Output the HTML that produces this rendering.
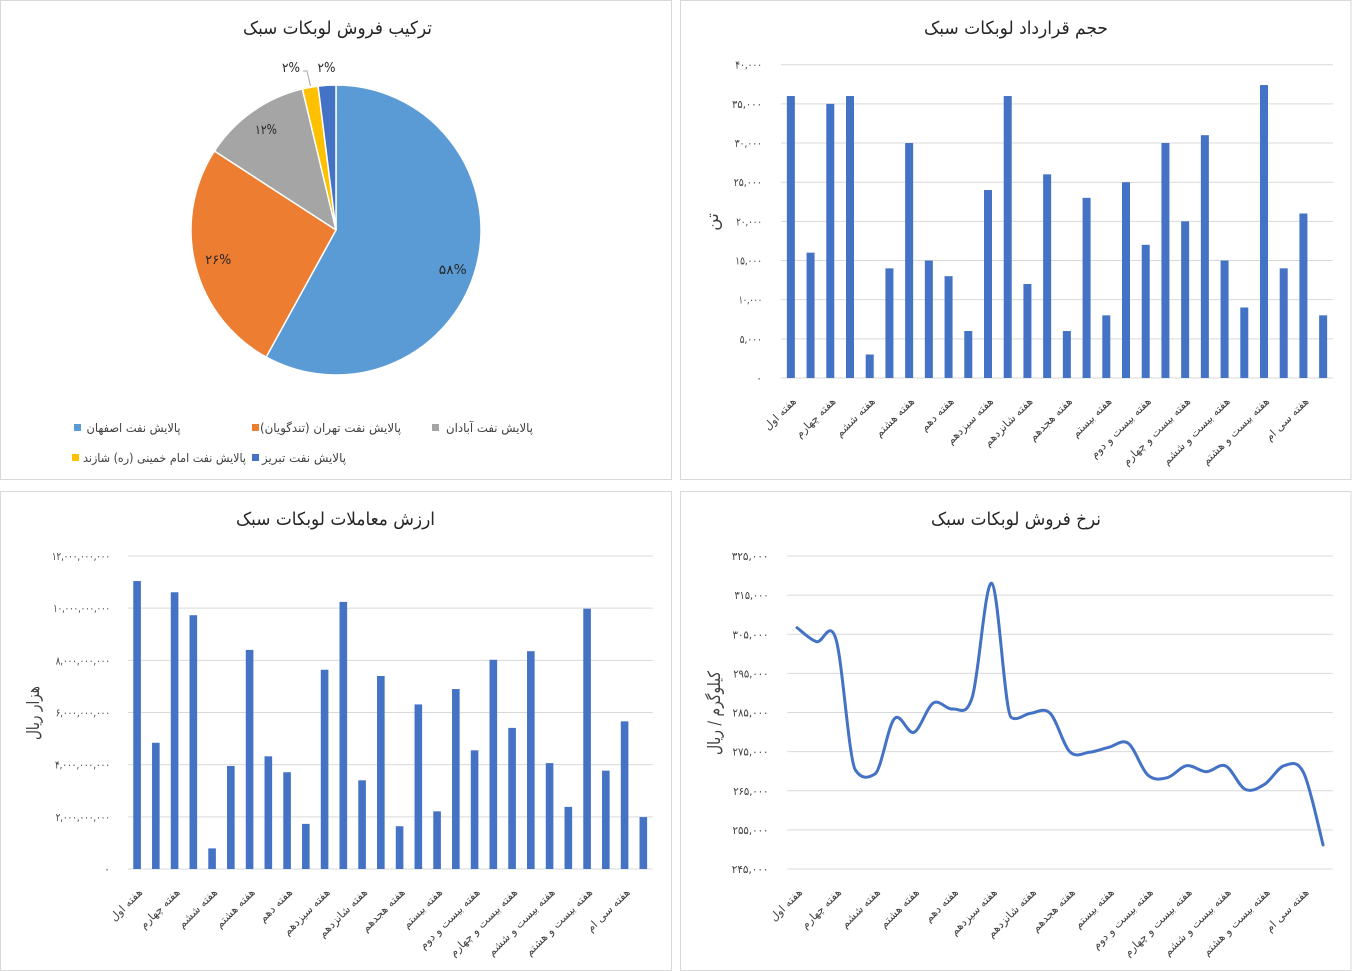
<!DOCTYPE html>
<html><head><meta charset="utf-8">
<style>
html,body{margin:0;padding:0;background:#fff;}
svg{display:block;}
text{font-family:"DejaVu Sans","Liberation Sans",sans-serif;}
.ttl{font-size:18px;fill:#262626;}
.num{font-size:11px;fill:#404040;}
.cat{font-size:11px;fill:#404040;}
.leg{font-size:12px;fill:#404040;}
.axt{font-size:17px;fill:#404040;}
.pct{font-size:13px;fill:#262626;}
.grid{stroke:#d9d9d9;stroke-width:1;}
</style></head>
<body>
<svg width="1352" height="971" viewBox="0 0 1352 971" xmlns="http://www.w3.org/2000/svg">
<rect x="0" y="0" width="1352" height="971" fill="#fff"/>
<!-- panel borders -->
<rect x="0.5" y="0.5" width="671" height="479" fill="none" stroke="#d9d9d9"/>
<rect x="680.5" y="0.5" width="670.5" height="479" fill="none" stroke="#d9d9d9"/>
<rect x="0.5" y="491.5" width="671" height="479" fill="none" stroke="#d9d9d9"/>
<rect x="680.5" y="491.5" width="670.5" height="479" fill="none" stroke="#d9d9d9"/>

<!-- ============ PIE (top-left) ============ -->
<text class="ttl" x="337.5" y="34" text-anchor="middle" direction="rtl" textLength="189" lengthAdjust="spacingAndGlyphs">ترکیب فروش لوبکات سبک</text>
<g stroke="#fff" stroke-width="1.5" stroke-linejoin="round">
<path d="M336,230 L336,85 A145,145 0 1 1 266.14,357.06 Z" fill="#5B9BD5"/>
<path d="M336,230 L266.14,357.06 A145,145 0 0 1 214.4,151.03 Z" fill="#ED7D31"/>
<path d="M336,230 L214.4,151.03 A145,145 0 0 1 302.4,88.94 Z" fill="#A5A5A5"/>
<path d="M336,230 L302.4,88.94 A145,145 0 0 1 318.08,86.11 Z" fill="#FFC000"/>
<path d="M336,230 L318.08,86.11 A145,145 0 0 1 336,85 Z" fill="#4472C4"/>
</g>
<polyline points="303,71 307,71 310.5,86" fill="none" stroke="#a6a6a6" stroke-width="1"/>
<text class="pct" x="452.8" y="274" text-anchor="middle" textLength="28" lengthAdjust="spacingAndGlyphs">۵۸%</text>
<text class="pct" x="218.3" y="264" text-anchor="middle" textLength="26" lengthAdjust="spacingAndGlyphs">۲۶%</text>
<text class="pct" x="266" y="134" text-anchor="middle" textLength="22" lengthAdjust="spacingAndGlyphs">۱۲%</text>
<text class="pct" x="291" y="72" text-anchor="middle" textLength="18" lengthAdjust="spacingAndGlyphs">۲%</text>
<text class="pct" x="326.5" y="72" text-anchor="middle" textLength="18" lengthAdjust="spacingAndGlyphs">۲%</text>
<!-- legend -->
<rect x="74" y="424" width="7" height="7" fill="#5B9BD5"/>
<text class="leg" x="133.5" y="432" text-anchor="middle" direction="rtl" textLength="94" lengthAdjust="spacingAndGlyphs">پالایش نفت اصفهان</text>
<rect x="252" y="424" width="7" height="7" fill="#ED7D31"/>
<text class="leg" x="330.5" y="432" text-anchor="middle" direction="rtl" textLength="141" lengthAdjust="spacingAndGlyphs">پالایش نفت تهران (تندگویان)&#x200F;</text>
<rect x="432" y="424" width="7" height="7" fill="#A5A5A5"/>
<text class="leg" x="489.5" y="432" text-anchor="middle" direction="rtl" textLength="87" lengthAdjust="spacingAndGlyphs">پالایش نفت آبادان</text>
<rect x="72" y="454" width="7" height="7" fill="#FFC000"/>
<text class="leg" x="164.5" y="462" text-anchor="middle" direction="rtl" textLength="163" lengthAdjust="spacingAndGlyphs">پالایش نفت امام خمینی (ره) شازند</text>
<rect x="252" y="454" width="7" height="7" fill="#4472C4"/>
<text class="leg" x="304" y="462" text-anchor="middle" direction="rtl" textLength="84" lengthAdjust="spacingAndGlyphs">پالایش نفت تبریز</text>

<!-- ============ BAR (top-right) ============ -->
<text class="ttl" x="1016" y="34" text-anchor="middle" direction="rtl" textLength="184" lengthAdjust="spacingAndGlyphs">حجم قرارداد لوبکات سبک</text>
<g class="grid">
<line x1="781" y1="64.7" x2="1333" y2="64.7"/>
<line x1="781" y1="103.86" x2="1333" y2="103.86"/>
<line x1="781" y1="143.03" x2="1333" y2="143.03"/>
<line x1="781" y1="182.19" x2="1333" y2="182.19"/>
<line x1="781" y1="221.35" x2="1333" y2="221.35"/>
<line x1="781" y1="260.51" x2="1333" y2="260.51"/>
<line x1="781" y1="299.68" x2="1333" y2="299.68"/>
<line x1="781" y1="338.84" x2="1333" y2="338.84"/>
<line x1="781" y1="378" x2="1333" y2="378"/>
</g>
<g class="num" text-anchor="end">
<text x="762" y="68.7" textLength="26.7" lengthAdjust="spacingAndGlyphs">۴۰,۰۰۰</text>
<text x="762" y="107.9" textLength="30" lengthAdjust="spacingAndGlyphs">۳۵,۰۰۰</text>
<text x="762" y="147" textLength="27.3" lengthAdjust="spacingAndGlyphs">۳۰,۰۰۰</text>
<text x="762" y="186.2" textLength="28.3" lengthAdjust="spacingAndGlyphs">۲۵,۰۰۰</text>
<text x="762" y="225.4" textLength="25.7" lengthAdjust="spacingAndGlyphs">۲۰,۰۰۰</text>
<text x="762" y="264.5" textLength="26.7" lengthAdjust="spacingAndGlyphs">۱۵,۰۰۰</text>
<text x="762" y="303.7" textLength="23.3" lengthAdjust="spacingAndGlyphs">۱۰,۰۰۰</text>
<text x="762" y="342.8" textLength="22.3" lengthAdjust="spacingAndGlyphs">۵,۰۰۰</text>
<text x="762" y="382">۰</text>
</g>
<text class="axt" transform="translate(718,222) rotate(-90)" text-anchor="middle" direction="rtl">تن</text>
<g fill="#4472C4">
<rect x="786.86" y="96.03" width="8" height="281.97"/>
<rect x="806.57" y="252.68" width="8" height="125.32"/>
<rect x="826.29" y="103.86" width="8" height="274.14"/>
<rect x="846.0" y="96.03" width="8" height="281.97"/>
<rect x="865.71" y="354.5" width="8" height="23.5"/>
<rect x="885.43" y="268.34" width="8" height="109.66"/>
<rect x="905.14" y="143.02" width="8" height="234.98"/>
<rect x="924.86" y="260.51" width="8" height="117.49"/>
<rect x="944.57" y="276.18" width="8" height="101.82"/>
<rect x="964.29" y="331.0" width="8" height="47.0"/>
<rect x="984.0" y="190.02" width="8" height="187.98"/>
<rect x="1003.71" y="96.03" width="8" height="281.97"/>
<rect x="1023.43" y="284.01" width="8" height="93.99"/>
<rect x="1043.14" y="174.35" width="8" height="203.65"/>
<rect x="1062.86" y="331.0" width="8" height="47.0"/>
<rect x="1082.57" y="197.85" width="8" height="180.15"/>
<rect x="1102.29" y="315.34" width="8" height="62.66"/>
<rect x="1122.0" y="182.19" width="8" height="195.81"/>
<rect x="1141.71" y="244.85" width="8" height="133.15"/>
<rect x="1161.43" y="143.02" width="8" height="234.98"/>
<rect x="1181.14" y="221.35" width="8" height="156.65"/>
<rect x="1200.86" y="135.19" width="8" height="242.81"/>
<rect x="1220.57" y="260.51" width="8" height="117.49"/>
<rect x="1240.29" y="307.51" width="8" height="70.49"/>
<rect x="1260.0" y="85.06" width="8" height="292.94"/>
<rect x="1279.71" y="268.34" width="8" height="109.66"/>
<rect x="1299.43" y="213.52" width="8" height="164.48"/>
<rect x="1319.14" y="315.34" width="8" height="62.66"/>
</g>
<g class="cat" text-anchor="end">
<text transform="translate(796.9,402) rotate(-45)">هفته اول</text>
<text transform="translate(836.3,402) rotate(-45)">هفته چهارم</text>
<text transform="translate(875.7,402) rotate(-45)">هفته ششم</text>
<text transform="translate(915.1,402) rotate(-45)">هفته هشتم</text>
<text transform="translate(954.6,402) rotate(-45)">هفته دهم</text>
<text transform="translate(994.0,402) rotate(-45)">هفته سیزدهم</text>
<text transform="translate(1033.4,402) rotate(-45)">هفته شانزدهم</text>
<text transform="translate(1072.9,402) rotate(-45)">هفته هجدهم</text>
<text transform="translate(1112.3,402) rotate(-45)">هفته بیستم</text>
<text transform="translate(1151.7,402) rotate(-45)">هفته بیست و دوم</text>
<text transform="translate(1191.1,402) rotate(-45)">هفته بیست و چهارم</text>
<text transform="translate(1230.6,402) rotate(-45)">هفته بیست و ششم</text>
<text transform="translate(1270.0,402) rotate(-45)">هفته بیست و هشتم</text>
<text transform="translate(1309.4,402) rotate(-45)">هفته سی ام</text>
</g>

<!-- ============ BAR (bottom-left) ============ -->
<text class="ttl" x="335.5" y="525" text-anchor="middle" direction="rtl" textLength="199" lengthAdjust="spacingAndGlyphs">ارزش معاملات لوبکات سبک</text>
<g class="grid">
<line x1="127.7" y1="556" x2="652.7" y2="556"/>
<line x1="127.7" y1="608.17" x2="652.7" y2="608.17"/>
<line x1="127.7" y1="660.33" x2="652.7" y2="660.33"/>
<line x1="127.7" y1="712.5" x2="652.7" y2="712.5"/>
<line x1="127.7" y1="764.67" x2="652.7" y2="764.67"/>
<line x1="127.7" y1="816.83" x2="652.7" y2="816.83"/>
<line x1="127.7" y1="869" x2="652.7" y2="869"/>
</g>
<g class="num" text-anchor="end">
<text x="110" y="560" textLength="58" lengthAdjust="spacingAndGlyphs">۱۲,۰۰۰,۰۰۰,۰۰۰</text>
<text x="110" y="612.2" textLength="56.7" lengthAdjust="spacingAndGlyphs">۱۰,۰۰۰,۰۰۰,۰۰۰</text>
<text x="110" y="664.3" textLength="54.3" lengthAdjust="spacingAndGlyphs">۸,۰۰۰,۰۰۰,۰۰۰</text>
<text x="110" y="716.5" textLength="54.3" lengthAdjust="spacingAndGlyphs">۶,۰۰۰,۰۰۰,۰۰۰</text>
<text x="110" y="768.7" textLength="55" lengthAdjust="spacingAndGlyphs">۴,۰۰۰,۰۰۰,۰۰۰</text>
<text x="110" y="820.8" textLength="54.3" lengthAdjust="spacingAndGlyphs">۲,۰۰۰,۰۰۰,۰۰۰</text>
<text x="110" y="873">۰</text>
</g>
<text class="axt" transform="translate(39,713) rotate(-90)" text-anchor="middle" direction="rtl" textLength="54" lengthAdjust="spacingAndGlyphs">هزار ریال</text>
<g fill="#4472C4">
<rect x="133.28" y="581.04" width="7.6" height="287.96"/>
<rect x="152.03" y="742.76" width="7.6" height="126.24"/>
<rect x="170.78" y="592.26" width="7.6" height="276.74"/>
<rect x="189.53" y="615.21" width="7.6" height="253.79"/>
<rect x="208.28" y="848.39" width="7.6" height="20.61"/>
<rect x="227.03" y="765.97" width="7.6" height="103.03"/>
<rect x="245.78" y="649.9" width="7.6" height="219.1"/>
<rect x="264.53" y="756.32" width="7.6" height="112.68"/>
<rect x="283.28" y="772.23" width="7.6" height="96.77"/>
<rect x="302.03" y="823.88" width="7.6" height="45.12"/>
<rect x="320.78" y="669.73" width="7.6" height="199.27"/>
<rect x="339.53" y="601.91" width="7.6" height="267.09"/>
<rect x="358.28" y="780.32" width="7.6" height="88.68"/>
<rect x="377.03" y="675.99" width="7.6" height="193.01"/>
<rect x="395.78" y="826.22" width="7.6" height="42.78"/>
<rect x="414.53" y="704.42" width="7.6" height="164.58"/>
<rect x="433.28" y="811.36" width="7.6" height="57.64"/>
<rect x="452.03" y="689.03" width="7.6" height="179.97"/>
<rect x="470.78" y="750.32" width="7.6" height="118.68"/>
<rect x="489.53" y="659.81" width="7.6" height="209.19"/>
<rect x="508.28" y="727.89" width="7.6" height="141.11"/>
<rect x="527.03" y="651.21" width="7.6" height="217.79"/>
<rect x="545.78" y="763.1" width="7.6" height="105.9"/>
<rect x="564.53" y="806.92" width="7.6" height="62.08"/>
<rect x="583.28" y="608.69" width="7.6" height="260.31"/>
<rect x="602.03" y="770.67" width="7.6" height="98.33"/>
<rect x="620.78" y="721.37" width="7.6" height="147.63"/>
<rect x="639.53" y="817.09" width="7.6" height="51.91"/>
</g>
<g class="cat" text-anchor="end">
<text transform="translate(143.1,893) rotate(-45)">هفته اول</text>
<text transform="translate(180.6,893) rotate(-45)">هفته چهارم</text>
<text transform="translate(218.1,893) rotate(-45)">هفته ششم</text>
<text transform="translate(255.6,893) rotate(-45)">هفته هشتم</text>
<text transform="translate(293.1,893) rotate(-45)">هفته دهم</text>
<text transform="translate(330.6,893) rotate(-45)">هفته سیزدهم</text>
<text transform="translate(368.1,893) rotate(-45)">هفته شانزدهم</text>
<text transform="translate(405.6,893) rotate(-45)">هفته هجدهم</text>
<text transform="translate(443.1,893) rotate(-45)">هفته بیستم</text>
<text transform="translate(480.6,893) rotate(-45)">هفته بیست و دوم</text>
<text transform="translate(518.1,893) rotate(-45)">هفته بیست و چهارم</text>
<text transform="translate(555.6,893) rotate(-45)">هفته بیست و ششم</text>
<text transform="translate(593.1,893) rotate(-45)">هفته بیست و هشتم</text>
<text transform="translate(630.6,893) rotate(-45)">هفته سی ام</text>
</g>

<!-- ============ LINE (bottom-right) ============ -->
<text class="ttl" x="1016" y="525" text-anchor="middle" direction="rtl" textLength="170" lengthAdjust="spacingAndGlyphs">نرخ فروش لوبکات سبک</text>
<g class="grid">
<line x1="787.3" y1="556" x2="1332.7" y2="556"/>
<line x1="787.3" y1="595.13" x2="1332.7" y2="595.13"/>
<line x1="787.3" y1="634.25" x2="1332.7" y2="634.25"/>
<line x1="787.3" y1="673.38" x2="1332.7" y2="673.38"/>
<line x1="787.3" y1="712.5" x2="1332.7" y2="712.5"/>
<line x1="787.3" y1="751.63" x2="1332.7" y2="751.63"/>
<line x1="787.3" y1="790.75" x2="1332.7" y2="790.75"/>
<line x1="787.3" y1="829.88" x2="1332.7" y2="829.88"/>
<line x1="787.3" y1="869" x2="1332.7" y2="869"/>
</g>
<g class="num" text-anchor="end">
<text x="768.5" y="560" textLength="36.7" lengthAdjust="spacingAndGlyphs">۳۲۵,۰۰۰</text>
<text x="768.5" y="599.1" textLength="34" lengthAdjust="spacingAndGlyphs">۳۱۵,۰۰۰</text>
<text x="768.5" y="638.3" textLength="36" lengthAdjust="spacingAndGlyphs">۳۰۵,۰۰۰</text>
<text x="768.5" y="677.4" textLength="35.3" lengthAdjust="spacingAndGlyphs">۲۹۵,۰۰۰</text>
<text x="768.5" y="716.5" textLength="36" lengthAdjust="spacingAndGlyphs">۲۸۵,۰۰۰</text>
<text x="768.5" y="755.6" textLength="36" lengthAdjust="spacingAndGlyphs">۲۷۵,۰۰۰</text>
<text x="768.5" y="794.8" textLength="35.3" lengthAdjust="spacingAndGlyphs">۲۶۵,۰۰۰</text>
<text x="768.5" y="833.9" textLength="36" lengthAdjust="spacingAndGlyphs">۲۵۵,۰۰۰</text>
<text x="768.5" y="873" textLength="36.7" lengthAdjust="spacingAndGlyphs">۲۴۵,۰۰۰</text>
</g>
<text class="axt" transform="translate(720,713) rotate(-90)" text-anchor="middle" direction="rtl" textLength="84" lengthAdjust="spacingAndGlyphs">کیلوگرم / ریال</text>
<path fill="none" stroke="#4472C4" stroke-width="3" stroke-linecap="round" stroke-linejoin="round" d="M797.0,627.7
C800.25,630.03 810.0,639.77 816.5,641.7
C823.0,643.63 829.5,617.9 836.0,639.3
C842.5,660.7 848.9,760 855.4,770
C861.9,780 868.4,778 874.9,774
C881.4,770 887.9,725.65 894.4,718.7
C900.9,711.42 907.4,734.92 913.9,732.3
C920.4,729.68 926.8,706.88 933.3,703
C939.8,699.12 946.3,710.0 952.8,709
C959.3,708.0 965.8,717.95 972.3,697
C978.8,676.05 985.3,579.88 991.8,583.3
C998.3,586.72 1004.7,713.5 1011.2,717.5
C1017.7,721.5 1024.2,714.0 1030.7,713.3
C1037.2,712.6 1043.7,706.9 1050.2,713.3
C1056.7,719.7 1063.3,745.2 1069.8,751.7
C1076.3,758.2 1082.8,753.03 1089.3,752.3
C1095.8,751.57 1102.3,748.8 1108.8,747.3
C1115.3,745.8 1121.8,738.68 1128.3,743.3
C1134.8,747.92 1141.3,769.27 1147.8,775
C1154.3,780.73 1160.7,779.25 1167.2,777.7
C1173.7,776.15 1180.2,766.7 1186.7,765.7
C1193.2,764.7 1199.7,771.65 1206.2,771.7
C1212.7,771.75 1219.2,763.07 1225.7,766
C1232.2,768.93 1238.7,786.25 1245.2,789.3
C1251.7,792.35 1258.1,788.23 1264.6,784.3
C1271.1,780.37 1277.6,767.63 1284.1,765.7
C1290.6,763.77 1297.1,759.48 1303.6,772.7
C1310.1,785.92 1319.85,832.95 1323.1,845"/>
<g class="cat" text-anchor="end">
<text transform="translate(803.0,893) rotate(-45)">هفته اول</text>
<text transform="translate(842.0,893) rotate(-45)">هفته چهارم</text>
<text transform="translate(881.0,893) rotate(-45)">هفته ششم</text>
<text transform="translate(919.9,893) rotate(-45)">هفته هشتم</text>
<text transform="translate(958.9,893) rotate(-45)">هفته دهم</text>
<text transform="translate(997.8,893) rotate(-45)">هفته سیزدهم</text>
<text transform="translate(1036.8,893) rotate(-45)">هفته شانزدهم</text>
<text transform="translate(1075.8,893) rotate(-45)">هفته هجدهم</text>
<text transform="translate(1114.7,893) rotate(-45)">هفته بیستم</text>
<text transform="translate(1153.7,893) rotate(-45)">هفته بیست و دوم</text>
<text transform="translate(1192.6,893) rotate(-45)">هفته بیست و چهارم</text>
<text transform="translate(1231.6,893) rotate(-45)">هفته بیست و ششم</text>
<text transform="translate(1270.6,893) rotate(-45)">هفته بیست و هشتم</text>
<text transform="translate(1309.5,893) rotate(-45)">هفته سی ام</text>
</g>
</svg>
</body></html>
